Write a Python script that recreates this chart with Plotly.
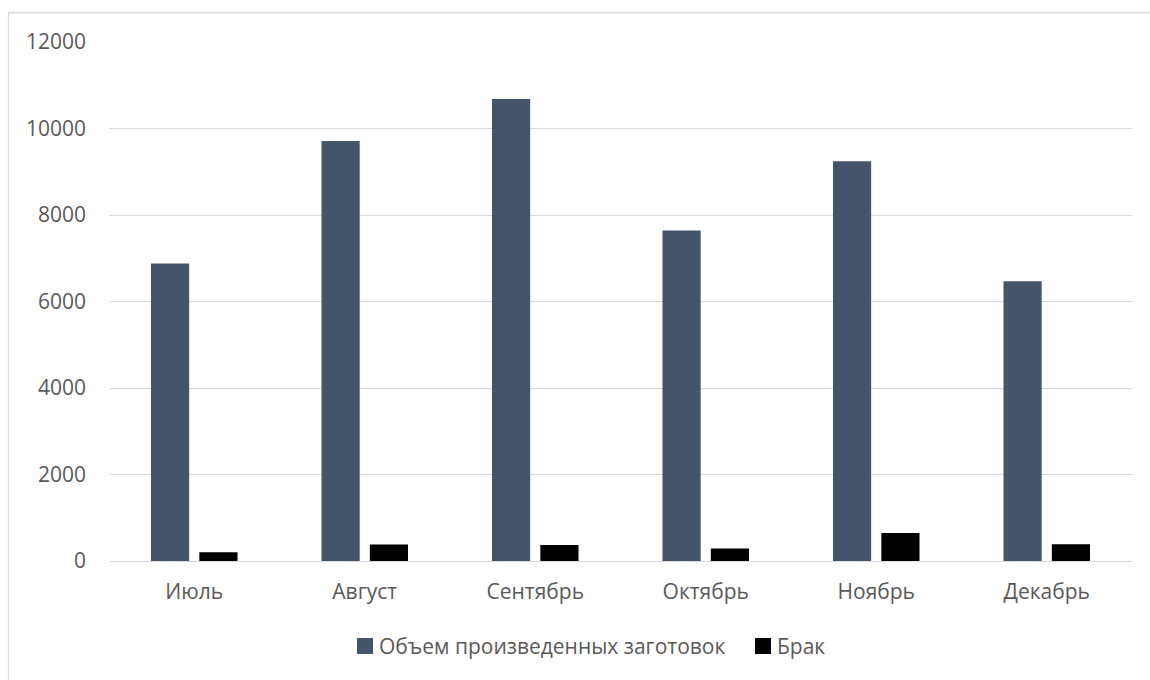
import plotly.graph_objects as go

# Monthly production data
months = ["Июль", "Август", "Сентябрь", "Октябрь", "Ноябрь", "Декабрь"]
volume = [6880, 9710, 10680, 7640, 9240, 6470]
defects = [200, 380, 370, 290, 650, 390]
y_ticks = [0, 2000, 4000, 6000, 8000, 10000, 12000]

series_names = ["Объем произведенных заготовок", "Брак"]
series_colors = ["#44546A", "#000000"]

W, H = 1150, 680
# plot area in pixels
L, R, T, B = 109, 1132, 42, 561

TEXT = "#595959"
FONT = "Open Sans"
FS = 21

fig = go.Figure()
for name, color, vals in zip(series_names, series_colors, [volume, defects]):
    fig.add_trace(go.Bar(
        x=months, y=vals, name=name, showlegend=False,
        marker=dict(color=color, line=dict(width=0)),
    ))

pw, ph = R - L, B - T


def px_x(x):
    return (x - L) / pw


def px_y(y):
    return (B - y) / ph


# outer chart border
fig.add_shape(
    type="rect", xref="paper", yref="paper",
    x0=px_x(8.5), x1=px_x(1170), y0=px_y(700), y1=px_y(12.5),
    line=dict(color="#D9D9D9", width=1.3), fillcolor="rgba(0,0,0,0)",
    layer="below",
)

# legend below the plot: square swatch followed by the series name
legend_x = [357, 755]
legend_cy = 646
sw = 16
for name, color, lx in zip(series_names, series_colors, legend_x):
    fig.add_shape(
        type="rect", xref="paper", yref="paper",
        x0=px_x(lx), x1=px_x(lx + sw),
        y0=px_y(legend_cy + sw / 2), y1=px_y(legend_cy - sw / 2),
        line=dict(width=0), fillcolor=color,
    )
    fig.add_annotation(
        xref="paper", yref="paper", x=px_x(lx + sw + 4), y=px_y(legend_cy),
        xanchor="left", yanchor="middle", showarrow=False,
        text=name, font=dict(family=FONT, size=FS, color=TEXT),
    )

fig.update_layout(
    width=W, height=H,
    margin=dict(l=L, r=W - R, t=T, b=H - B, pad=0),
    paper_bgcolor="white", plot_bgcolor="white",
    barmode="group", bargap=0.433, bargroupgap=0.21,
    font=dict(family=FONT, size=FS, color=TEXT),
    showlegend=False,
    xaxis=dict(
        showgrid=False, showline=False, ticks="",
        tickfont=dict(family=FONT, size=FS, color=TEXT),
        ticklabelstandoff=16,
    ),
    yaxis=dict(
        range=[0, 12000], tickvals=y_ticks,
        ticktext=[str(v) for v in y_ticks],
        showgrid=True, gridcolor="#D9D9D9", gridwidth=1.3,
        zeroline=True, zerolinecolor="#D9D9D9", zerolinewidth=1.3,
        showline=False, ticks="",
        tickfont=dict(family=FONT, size=FS, color=TEXT),
        ticklabelstandoff=22,
    ),
)

fig.write_html("out.html")
